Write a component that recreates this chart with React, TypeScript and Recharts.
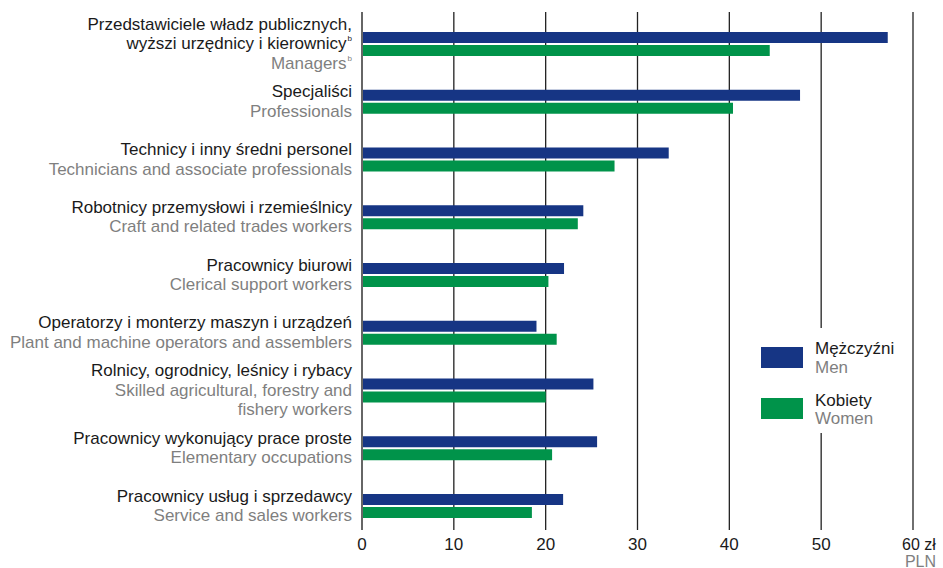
import { BarChart, Bar, XAxis, YAxis, CartesianGrid, Legend } from 'recharts'

// occupation groups, top to bottom
const categoryIdx = [0, 1, 2, 3, 4, 5, 6, 7, 8]
const polishLabels = [
  ['Przedstawiciele władz publicznych,', 'wyższi urzędnicy i kierownicy|b'],
  ['Specjaliści'],
  ['Technicy i inny średni personel'],
  ['Robotnicy przemysłowi i rzemieślnicy'],
  ['Pracownicy biurowi'],
  ['Operatorzy i monterzy maszyn i urządzeń'],
  ['Rolnicy, ogrodnicy, leśnicy i rybacy'],
  ['Pracownicy wykonujący prace proste'],
  ['Pracownicy usług i sprzedawcy'],
]
const englishLabels = [
  ['Managers|b'],
  ['Professionals'],
  ['Technicians and associate professionals'],
  ['Craft and related trades workers'],
  ['Clerical support workers'],
  ['Plant and machine operators and assemblers'],
  ['Skilled agricultural, forestry and', 'fishery workers'],
  ['Elementary occupations'],
  ['Service and sales workers'],
]
const menValues = [57.25, 47.7, 33.4, 24.1, 22.0, 19.0, 25.2, 25.6, 21.9]
const womenValues = [44.4, 40.4, 27.5, 23.5, 20.3, 21.2, 20.0, 20.7, 18.5]
const xTicks = [0, 10, 20, 30, 40, 50, 60]

const NAVY = '#163584'
const GREEN = '#00934a'
const DARK = '#1a1a1a'
const GREY = '#7f7f7f'
const FONT = '"Liberation Sans", Arial, sans-serif'

const data = categoryIdx.map((idx) => ({
  idx,
  men: menValues[idx],
  women: womenValues[idx],
}))

function LabelLine({ text, y, fill }: { text: string; y: number; fill: string }) {
  const [main, sup] = text.split('|')
  return (
    <text x={352} y={y} textAnchor="end" fill={fill} fontSize={17} fontFamily={FONT}>
      <tspan>{main}</tspan>
      {sup && (
        <tspan fontSize={8} dx={1} dy={-8}>
          {sup}
        </tspan>
      )}
    </text>
  )
}

function YTick(props: any) {
  const { y, payload } = props
  const i = payload.value
  const lines = [
    ...polishLabels[i].map((t) => ({ t, fill: DARK })),
    ...englishLabels[i].map((t) => ({ t, fill: GREY })),
  ]
  const n = lines.length
  return (
    <g>
      {lines.map((l, k) => (
        <LabelLine key={k} text={l.t} fill={l.fill} y={y + 5.5 + (k - (n - 1) / 2) * 19.5} />
      ))}
    </g>
  )
}

function XTick(props: any) {
  const { x, y, payload } = props
  const v = payload.value
  if (v === 60) {
    return (
      <g fontFamily={FONT} fontSize={16}>
        <text x={x - 11} y={y} dy={12} fill={DARK}>
          60 zł
        </text>
        <text x={x + 23} y={y} dy={28.5} textAnchor="end" fill={GREY}>
          PLN
        </text>
      </g>
    )
  }
  return (
    <text x={x} y={y} dy={12} textAnchor="middle" fill={DARK} fontFamily={FONT} fontSize={17}>
      {v}
    </text>
  )
}

function LegendBox() {
  return (
    <svg width={150} height={105} style={{ display: 'block', background: '#fff' }}>
      <rect x={11} y={19} width={42} height={21} fill={NAVY} />
      <text x={65} y={26} fontSize={17} fontFamily={FONT} fill={DARK}>
        Mężczyźni
      </text>
      <text x={65} y={45} fontSize={17} fontFamily={FONT} fill={GREY}>
        Men
      </text>
      <rect x={11} y={70} width={42} height={21} fill={GREEN} />
      <text x={65} y={78} fontSize={17} fontFamily={FONT} fill={DARK}>
        Kobiety
      </text>
      <text x={65} y={96} fontSize={17} fontFamily={FONT} fill={GREY}>
        Women
      </text>
    </svg>
  )
}

export default function App() {
  return (
    <div style={{ position: 'absolute', left: 0, top: 0, background: '#fff' }}>
      <BarChart
        width={943}
        height={568}
        data={data}
        layout="vertical"
        margin={{ top: 12, right: 30, bottom: 0, left: 0 }}
        barSize={11}
        barGap={2}
      >
        <CartesianGrid horizontal={false} stroke="#222" strokeWidth={1.3} />
        <XAxis
          type="number"
          domain={[0, 60]}
          ticks={xTicks}
          axisLine={false}
          tickLine={false}
          height={38}
          interval={0}
          tick={<XTick />}
        />
        <YAxis
          type="number"
          dataKey="idx"
          domain={[-0.554, 8.416]}
          ticks={categoryIdx}
          interval={0}
          width={362}
          axisLine={{ stroke: '#666', strokeWidth: 2 }}
          tickLine={false}
          tick={<YTick />}
        />
        <Legend
          layout="horizontal"
          verticalAlign="middle"
          align="center"
          content={() => <LegendBox />}
          wrapperStyle={{ position: 'absolute', left: 750, top: 328, width: 150, height: 105 }}
        />
        <Bar dataKey="men" fill={NAVY} isAnimationActive={false} />
        <Bar dataKey="women" fill={GREEN} isAnimationActive={false} />
      </BarChart>
    </div>
  )
}
